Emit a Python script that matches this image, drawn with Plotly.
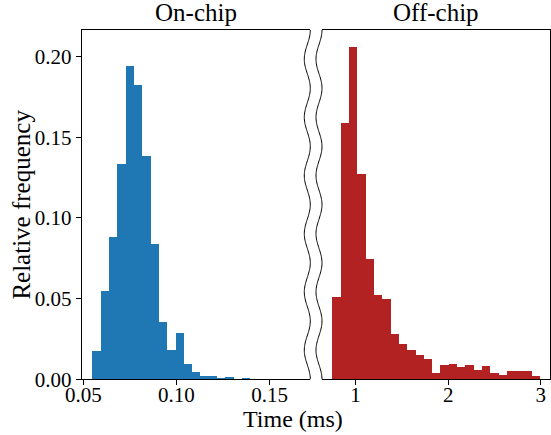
import numpy as np
import plotly.graph_objects as go

# ---------------- data ----------------
on_chip_range = (0.0547, 0.1663)   # histogram range (ms)
on_chip_freq = [0.0174, 0.0546, 0.0881, 0.1334, 0.1942, 0.1824, 0.1384, 0.0838,
                0.0354, 0.0182, 0.0287, 0.0097, 0.0045, 0.0020, 0.0020, 0.0008,
                0.0014, 0.0000, 0.0008, 0.0000, 0.0000, 0.0000, 0.0000, 0.0000,
                0.0000]
off_chip_range = (0.747, 2.990)
off_chip_freq = [0.0511, 0.1588, 0.2062, 0.1272, 0.0745, 0.0521, 0.0496, 0.0281,
                 0.0219, 0.0180, 0.0151, 0.0126, 0.0039, 0.0089, 0.0095, 0.0076,
                 0.0089, 0.0058, 0.0083, 0.0039, 0.0027, 0.0052, 0.0052, 0.0052,
                 0.0020]
y_ticks = [0.00, 0.05, 0.10, 0.15, 0.20]
on_ticks = [0.05, 0.10, 0.15]
on_tick_labels = ["0.05", "0.10", "0.15"]
off_ticks = [1, 2, 3]
off_tick_labels = ["1", "2", "3"]
titles = ["On-chip", "Off-chip"]
x_label = "Time (ms)"
y_label = "Relative frequency"

# ---------------- layout constants ----------------
W, H = 551, 435
FONT = "Liberation Serif"
BLUE = "#1f77b4"
RED = "#b22222"

def px_x(x):
    return x / W

def px_y(y):
    return 1 - y / H

left_dom = [px_x(81.7), px_x(310.3)]
right_dom = [px_x(321.7), px_x(550.3)]
y_dom = [px_y(379.3), px_y(30)]


def bars(rng, freq):
    edges = np.linspace(rng[0], rng[1], len(freq) + 1)
    centers = (edges[:-1] + edges[1:]) / 2
    widths = np.diff(edges)
    return centers, widths


on_c, on_w = bars(on_chip_range, on_chip_freq)
off_c, off_w = bars(off_chip_range, off_chip_freq)

fig = go.Figure()
fig.add_trace(go.Bar(x=on_c, y=on_chip_freq, width=on_w, marker=dict(color=BLUE, line=dict(width=0)),
                     xaxis="x", yaxis="y", showlegend=False, hoverinfo="skip"))
fig.add_trace(go.Bar(x=off_c, y=off_chip_freq, width=off_w, marker=dict(color=RED, line=dict(width=0)),
                     xaxis="x2", yaxis="y2", showlegend=False, hoverinfo="skip"))

axis_common = dict(showgrid=False, zeroline=False, showline=True, linecolor="black", linewidth=1,
                   ticks="outside", ticklen=5, tickwidth=1, tickcolor="black", automargin=False,
                   tickfont=dict(family=FONT, size=21, color="black"))

# x ranges with matplotlib-like 5% margins
def margin_range(rng):
    d = rng[1] - rng[0]
    return [rng[0] - 0.05 * d, rng[1] + 0.05 * d]

ymax = max(max(on_chip_freq), max(off_chip_freq)) * 1.05

fig.update_layout(
    width=W, height=H,
    margin=dict(l=0, r=0, t=0, b=0, pad=0, autoexpand=False),
    paper_bgcolor="white", plot_bgcolor="white",
    bargap=0,
    xaxis=dict(domain=left_dom, range=margin_range(on_chip_range), tickvals=on_ticks,
               ticktext=on_tick_labels, mirror=True, anchor="y", ticklabelstandoff=-9, **axis_common),
    yaxis=dict(domain=y_dom, range=[0, ymax], tickvals=y_ticks, tickformat=".2f",
               anchor="x", **axis_common),
    xaxis2=dict(domain=right_dom, range=margin_range(off_chip_range), tickvals=off_ticks,
                ticktext=off_tick_labels, mirror=True, anchor="y2", ticklabelstandoff=-9, **axis_common),
    yaxis2=dict(domain=y_dom, range=[0, ymax], tickvals=y_ticks, matches="y", side="right",
                showticklabels=False, anchor="x2", **axis_common),
)

# wavy break lines (decoration)
A = 3.0
period = 349.3 / 6
ys = np.linspace(30, 379.3, 300)
shapes = []
for xr in (310.3, 322.0):
    xs = xr - A * (1 - np.cos(2 * np.pi * (ys - 30) / period))
    path = "M " + " L ".join(f"{px_x(x):.5f},{px_y(y):.5f}" for x, y in zip(xs, ys))
    shapes.append(dict(type="path", xref="paper", yref="paper", path=path,
                       line=dict(color="black", width=1)))
fig.update_layout(shapes=shapes)

annotations = [
    dict(text=titles[0], x=(left_dom[0] + left_dom[1]) / 2, y=px_y(13), xref="paper", yref="paper",
         showarrow=False, xanchor="center", yanchor="middle", font=dict(family=FONT, size=25, color="black")),
    dict(text=titles[1], x=(right_dom[0] + right_dom[1]) / 2, y=px_y(13), xref="paper", yref="paper",
         showarrow=False, xanchor="center", yanchor="middle", font=dict(family=FONT, size=25, color="black")),
    dict(text=x_label, x=px_x(293), y=px_y(419), xref="paper", yref="paper",
         showarrow=False, xanchor="center", yanchor="middle", font=dict(family=FONT, size=24, color="black")),
    dict(text=y_label, x=px_x(22), y=px_y(204.6), xref="paper", yref="paper", textangle=-90,
         showarrow=False, xanchor="center", yanchor="middle", font=dict(family=FONT, size=25, color="black")),
]
fig.update_layout(annotations=annotations)

fig.write_html("out.html", config={"displayModeBar": False},
               post_script="document.body.style.margin='0px';document.body.style.overflow='hidden';")
